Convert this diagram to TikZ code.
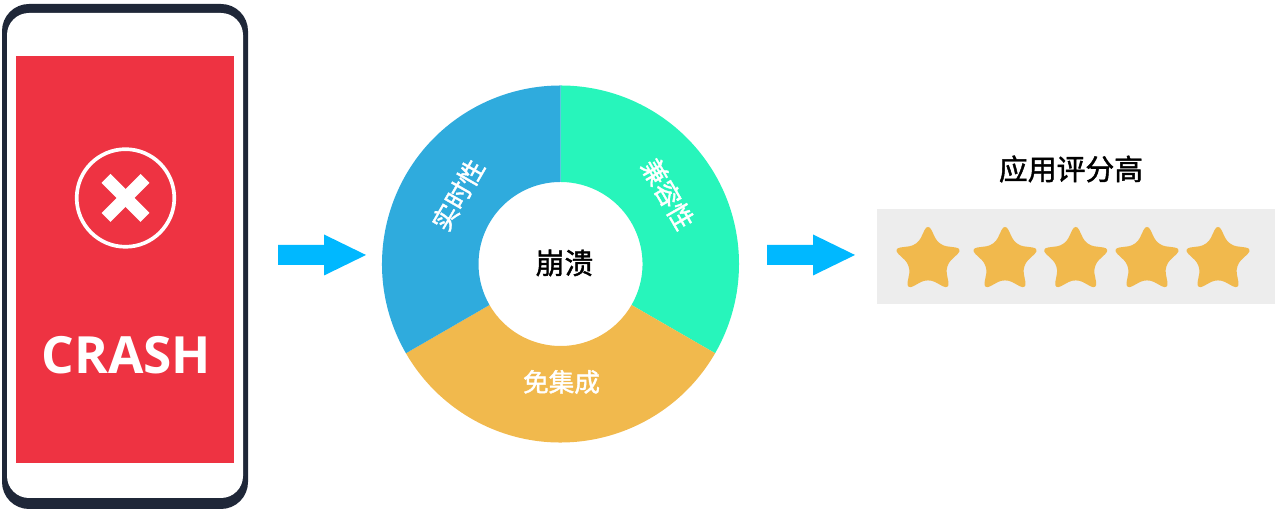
\documentclass[tikz,border=0pt]{standalone}
\usepackage{fontspec}
\setmainfont[FakeBold=1.5]{Noto Sans CJK SC}
\newfontfamily\crashfont{Open Sans}
\usetikzlibrary{shapes.geometric}
\definecolor{phonedark}{HTML}{1F2738}
\definecolor{crashred}{HTML}{EE3342}
\definecolor{ringblue}{HTML}{2FABDD}
\definecolor{ringgreen}{HTML}{27F5BB}
\definecolor{ringgold}{HTML}{F1B94D}
\definecolor{arrowblue}{HTML}{00B8FF}
\definecolor{panelgray}{HTML}{EDEDED}
\tikzset{
	ringlabel/.style={inner sep=0pt, text=white, font=\fontsize{7.3}{9}\selectfont},
	titlelabel/.style={inner sep=0pt, text=black, font=\fontsize{8.2}{10}\selectfont},
	ratestar/.style={star, star points=5, star point ratio=2.05, minimum size=0.745cm, inner sep=0pt, rounded corners=0.08cm, fill=ringgold}
}
\newcommand{\flowarrow}[2] % x of tail in cm, y of axis in cm
{
	\fill[arrowblue] (#1,#2-0.1) -- (#1+0.46,#2-0.1) -- (#1+0.46,#2-0.205) -- (#1+0.88,#2) -- (#1+0.46,#2+0.205) -- (#1+0.46,#2+0.1) -- (#1,#2+0.1) -- cycle;
}

\begin{document}
\begin{tikzpicture}
	\useasboundingbox (0, 0) rectangle (12.8, 5.15);
	% phone
	\fill[phonedark, rounded corners=0.27cm] (0.02, 0.06) rectangle (2.48, 5.11);
	\fill[white, rounded corners=0.22cm] (0.07, 0.17) rectangle (2.43, 5.02);
	\fill[crashred] (0.16, 0.52) rectangle (2.34, 4.59);
	\draw[white, line width=0.037cm] (1.255, 3.17) circle (0.488);
	\draw[white, line width=0.127cm] (1.06, 2.975) -- (1.45, 3.365);
	\draw[white, line width=0.127cm] (1.06, 3.365) -- (1.45, 2.975);
	\node[inner sep=0pt, text=white] (crash) at (1.265, 1.6) {\crashfont\bfseries\fontsize{14.6}{16}\selectfont CRASH};

	\flowarrow{2.78}{2.6}

	% ring, centre at (5.605, 2.51)
	\begin{scope}[shift={(5.605, 2.51)}]
		\foreach \ringcolor/\from/\to in {ringgreen/90/-30, ringgold/-30/-150, ringblue/-150/-270}
			\fill[\ringcolor] (\from:1.785) arc (\from:\to:1.785) -- (\to:0.82) arc (\to:\from:0.82) -- cycle;
	\end{scope}
	\node[ringlabel, rotate=60] (realtime) at (4.58, 3.2) {实时性};
	\node[ringlabel, rotate=-60] (compat) at (6.68, 3.21) {兼容性};
	\node[ringlabel] (noembed) at (5.615, 1.33) {免集成};
	\node[titlelabel] (crashlabel) at (5.645, 2.52) {崩溃};

	\flowarrow{7.67}{2.6}

	% rating panel
	\node[titlelabel] (ratelabel) at (10.71, 3.46) {应用评分高};
	\fill[panelgray] (8.77, 2.11) rectangle (12.75, 3.055);
	\foreach \n/\x in {1/9.28, 2/10.05, 3/10.757, 4/11.47, 5/12.18}
		\node[ratestar] (star\n) at (\x, 2.55) {};
\end{tikzpicture}
\end{document}
